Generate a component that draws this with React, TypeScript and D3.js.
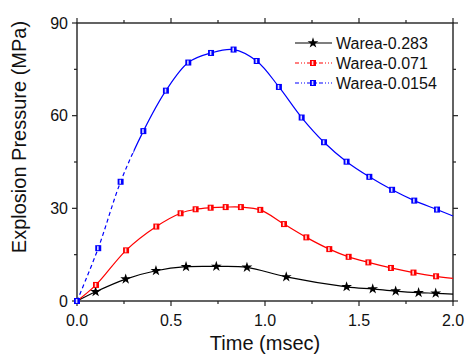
import React from 'react';
import * as d3 from 'd3';

// time in msec, pressure in MPa
const series1Time = [0, 0.099, 0.259, 0.42, 0.58, 0.741, 0.904, 1.113, 1.434, 1.573, 1.695, 1.817, 1.908, 2.0];
const series1Pres = [0, 3.0, 7.1, 9.8, 11.1, 11.2, 10.9, 7.8, 4.6, 3.9, 3.2, 2.7, 2.5, 2.2];

const series2Time = [0, 0.101, 0.261, 0.422, 0.551, 0.631, 0.711, 0.791, 0.872, 0.975, 1.101, 1.22, 1.342, 1.445, 1.55, 1.67, 1.79, 1.91, 2.0];
const series2Pres = [0, 5.2, 16.4, 24.1, 28.4, 29.7, 30.2, 30.4, 30.4, 29.5, 24.9, 20.6, 16.8, 14.3, 12.5, 10.7, 9.2, 8.0, 7.3];

const series3Time = [0, 0.113, 0.232, 0.353, 0.473, 0.592, 0.713, 0.833, 0.956, 1.074, 1.195, 1.314, 1.434, 1.555, 1.676, 1.794, 1.915, 2.0];
const series3Pres = [0, 17.1, 38.6, 55.0, 68.1, 77.2, 80.3, 81.4, 77.7, 69.3, 59.4, 51.4, 45.1, 40.2, 36.0, 32.5, 29.6, 27.5];

const seriesNames = ['Warea-0.283', 'Warea-0.071', 'Warea-0.0154'];
const seriesColors = ['#000000', '#ff0000', '#0000ff'];

const xMajor = [0, 0.5, 1.0, 1.5, 2.0];
const xMinor = [0.25, 0.75, 1.25, 1.75];
const yMajor = [0, 30, 60, 90];
const yMinor = [15, 45, 75];

const font = 'Liberation Sans, Arial, sans-serif';

function zip(t: number[], p: number[]) {
  return t.map((v, i) => [v, p[i]] as [number, number]);
}

function Square({ x, y, color }: { x: number; y: number; color: string }) {
  return (
    <g>
      <rect x={x - 3} y={y - 3} width={6} height={6} fill={color} />
      <rect x={x - 1.2} y={y - 2} width={1.6} height={4} fill="#ffffff" opacity={0.85} />
    </g>
  );
}

export default function App() {
  const W = 468, H = 358;
  const m = { l: 77, r: 15, t: 23, b: 57 };

  const x = d3.scaleLinear().domain([0, 2]).range([m.l, W - m.r]);
  const y = d3.scaleLinear().domain([0, 90]).range([H - m.b, m.t]);

  const line = d3.line<[number, number]>()
    .x(d => x(d[0]))
    .y(d => y(d[1]))
    .curve(d3.curveCatmullRom.alpha(0.5));

  const data = [
    zip(series1Time, series1Pres),
    zip(series2Time, series2Pres),
    zip(series3Time, series3Pres),
  ];

  const star = d3.symbol().type(d3.symbolStar).size(36)() as string;
  const x0 = x(0), x1 = x(2), y0 = y(0), y1 = y(90);
  const dashEnd = x(0.3);

  return (
    <svg width={W} height={H} style={{ position: 'absolute', left: 0, top: 0, background: '#fff' }}
      fontFamily={font}>
      <defs>
        <clipPath id="dashpart"><rect x={0} y={0} width={dashEnd} height={H} /></clipPath>
        <clipPath id="solidpart"><rect x={dashEnd} y={0} width={W - dashEnd} height={H} /></clipPath>
      </defs>

      {/* frame */}
      <rect x={x0} y={y1} width={x1 - x0} height={y0 - y1} fill="none" stroke="#222" strokeWidth={1.4} />

      {/* ticks, all pointing outward */}
      {xMajor.map(v => (
        <g key={'xM' + v}>
          <line x1={x(v)} x2={x(v)} y1={y0} y2={y0 + 5} stroke="#222" strokeWidth={1.2} />
          <line x1={x(v)} x2={x(v)} y1={y1} y2={y1 - 5} stroke="#222" strokeWidth={1.2} />
          <text x={x(v)} y={326} fontSize={16} textAnchor="middle" fill="#111">{v.toFixed(1)}</text>
        </g>
      ))}
      {xMinor.map(v => (
        <g key={'xm' + v}>
          <line x1={x(v)} x2={x(v)} y1={y0} y2={y0 + 3} stroke="#222" strokeWidth={1.2} />
          <line x1={x(v)} x2={x(v)} y1={y1} y2={y1 - 3} stroke="#222" strokeWidth={1.2} />
        </g>
      ))}
      {yMajor.map(v => (
        <g key={'yM' + v}>
          <line x1={x0} x2={x0 - 5} y1={y(v)} y2={y(v)} stroke="#222" strokeWidth={1.2} />
          <line x1={x1} x2={x1 + 5} y1={y(v)} y2={y(v)} stroke="#222" strokeWidth={1.2} />
          <text x={x0 - 9} y={y(v)} dy="0.36em" fontSize={16} textAnchor="end" fill="#111">{v}</text>
        </g>
      ))}
      {yMinor.map(v => (
        <g key={'ym' + v}>
          <line x1={x0} x2={x0 - 3} y1={y(v)} y2={y(v)} stroke="#222" strokeWidth={1.2} />
          <line x1={x1} x2={x1 + 3} y1={y(v)} y2={y(v)} stroke="#222" strokeWidth={1.2} />
        </g>
      ))}

      {/* axis titles */}
      <text x={(x0 + x1) / 2} y={350} fontSize={20} textAnchor="middle" fill="#111">Time (msec)</text>
      <text transform="translate(26,137) rotate(-90)" fontSize={20} textAnchor="middle" fill="#111">
        Explosion Pressure (MPa)
      </text>

      {/* curves */}
      <path d={line(data[0]) || ''} fill="none" stroke={seriesColors[0]} strokeWidth={1.2} />
      <path d={line(data[1]) || ''} fill="none" stroke={seriesColors[1]} strokeWidth={1.2} />
      <path d={line(data[2]) || ''} fill="none" stroke={seriesColors[2]} strokeWidth={1.2}
        strokeDasharray="4,3" clipPath="url(#dashpart)" />
      <path d={line(data[2]) || ''} fill="none" stroke={seriesColors[2]} strokeWidth={1.2}
        clipPath="url(#solidpart)" />

      {/* markers */}
      {data[0].filter(d => d[0] > 0 && d[0] < 2).map((d, i) => (
        <path key={'s' + i} d={star} transform={`translate(${x(d[0])},${y(d[1])})`} fill="#000" />
      ))}
      {data[1].filter(d => d[0] > 0 && d[0] < 2).map((d, i) => (
        <Square key={'r' + i} x={x(d[0])} y={y(d[1])} color={seriesColors[1]} />
      ))}
      {data[2].filter(d => d[0] < 2).map((d, i) => (
        <Square key={'b' + i} x={x(d[0])} y={y(d[1])} color={seriesColors[2]} />
      ))}

      {/* legend */}
      {seriesNames.map((name, i) => {
        const ly = 43 + i * 20;
        return (
          <g key={name}>
            <line x1={295} x2={332} y1={ly} y2={ly} stroke={seriesColors[i]} strokeWidth={1.2}
              strokeDasharray={i === 0 ? undefined : '4,2,1,2,1,2'} />
            {i === 0
              ? <path d={star} transform={`translate(313,${ly})`} fill="#000" />
              : <Square x={313} y={ly} color={seriesColors[i]} />}
            <text x={336} y={ly} dy="0.36em" fontSize={16} fill="#111">{name}</text>
          </g>
        );
      })}
    </svg>
  );
}
